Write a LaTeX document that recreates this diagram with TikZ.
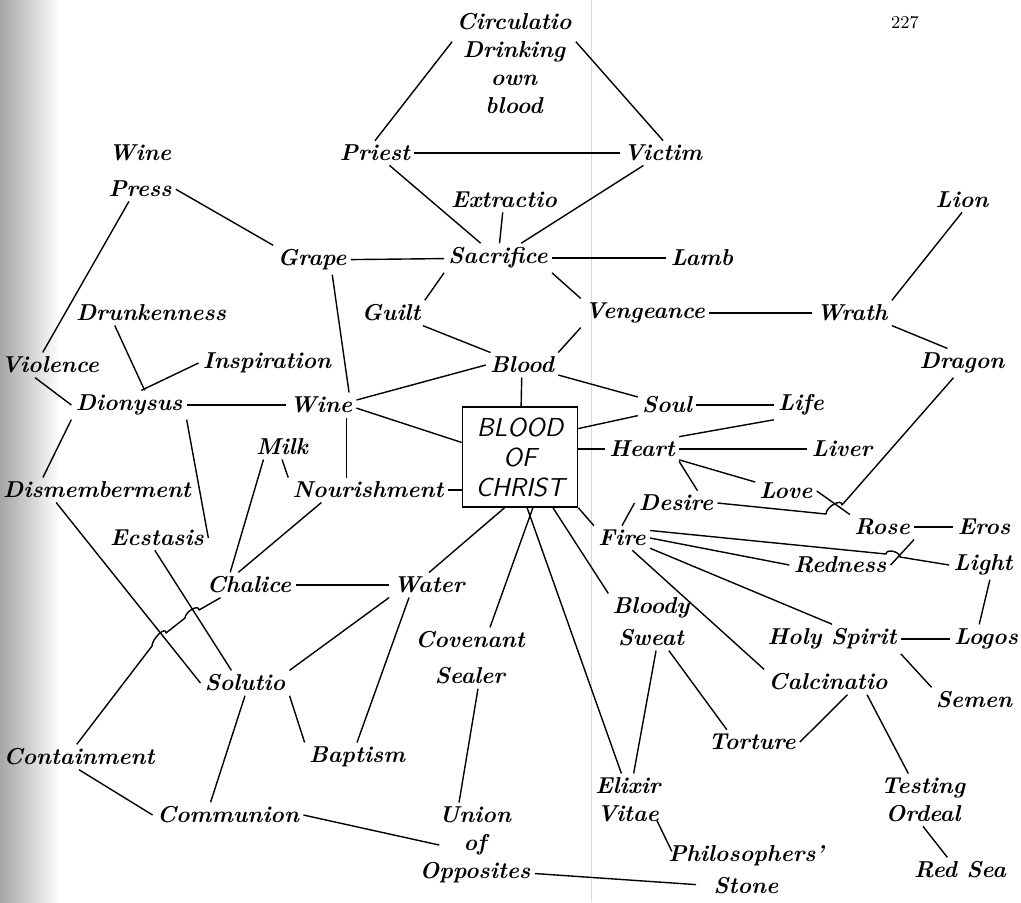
\documentclass[tikz,border=0pt]{standalone}
\usepackage{tikz}
\begin{document}
\begin{tikzpicture}[x=0.5pt,y=-0.5pt,
  word/.style={font=\fontsize{11.5}{14}\selectfont\bfseries\itshape,align=center,inner sep=2pt},
  box/.style={draw,line width=0.8pt,font=\fontsize{13}{15}\selectfont\sffamily\slshape,
    align=center,minimum width=57.5pt,minimum height=50pt,inner sep=2pt},
  link/.style={line width=0.7pt,line join=round}]
\useasboundingbox (0,0) rectangle (1021,902);
\shade[left color=black!35,right color=white] (0,0) rectangle (60,902);
\draw[black!15,line width=0.5pt] (591,0) -- (591,902); % fold of the page

\node[font=\fontsize{9}{10}\selectfont] (page) at (905,23) {227};

% top
\node[word] (circ) at (514,63) {Circulatio\\Drinking\\own\\blood};
\node[word] (priest) at (375,153) {Priest};
\node[word] (victim) at (663,153) {Victim};
\node[word] (winepress) at (140,171) {Wine\\[4pt]Press};
\node[word] (extractio) at (504,200) {Extractio};
\node[word] (lion) at (962,200) {Lion};
\node[word] (grape) at (312,260) {Grape};
\node[word] (sacrifice) at (498,258) {Sacrifice};
\node[word] (lamb) at (702,258) {Lamb};
\node[word] (drunk) at (151,313) {Drunkenness};
\node[word] (guilt) at (391,313) {Guilt};
\node[word] (vengeance) at (645,313) {Vengeance};
\node[word] (wrath) at (852,313) {Wrath};
\node[word] (violence) at (50,365) {Violence};
\node[word] (inspiration) at (267,363) {Inspiration};
\node[word] (blood) at (522,365) {Blood};
\node[word] (dragon) at (962,363) {Dragon};
\node[word] (dionysus) at (129,405) {Dionysus};
\node[word] (wine) at (321,405) {Wine};
\node[word] (soul) at (667,405) {Soul};
\node[word] (life) at (801,405) {Life};

% middle
\node[box] (christ) at (520,457) {BLOOD\\OF\\CHRIST};
\node[word] (milk) at (282,447) {Milk};
\node[word] (heart) at (642,449) {Heart};
\node[word] (liver) at (842,449) {Liver};
\node[word] (nour) at (368,490) {Nourishment};
\node[word] (dismember) at (97,490) {Dismemberment};
\node[word] (love) at (786,491) {Love};
\node[word] (desire) at (676,503) {Desire};
\node[word] (rose) at (882,527) {Rose};
\node[word] (eros) at (984,527) {Eros};
\node[word] (fire) at (622,538) {Fire};
\node[word] (ecstasis) at (157,538) {Ecstasis};
\node[word] (redness) at (840,565) {Redness};
\node[word] (light) at (983,565) {Light};
\node[word] (chalice) at (249,585) {Chalice};
\node[word] (water) at (429,585) {Water};
\node[word] (bloody) at (651,622) {Bloody\\[2pt]Sweat};
\node[word] (covenant) at (470,658) {Covenant\\[4pt]Sealer};
\node[word] (spirit) at (832,639) {Holy Spirit};
\node[word] (logos) at (986,639) {Logos};

% bottom
\node[word] (solutio) at (245,683) {Solutio};
\node[word] (calcinatio) at (828,682) {Calcinatio};
\node[word] (semen) at (974,700) {Semen};
\node[word] (torture) at (752,742) {Torture};
\node[word] (containment) at (79,757) {Containment};
\node[word] (baptism) at (357,757) {Baptism};
\node[word] (elixir) at (628,800) {Elixir\\Vitae};
\node[word] (testing) at (923,800) {Testing\\Ordeal};
\node[word] (communion) at (228,815) {Communion};
\node[word] (union) at (475,845) {Union\\of\\Opposites};
\node[word] (philo) at (746,870) {Philosophers'\\[2pt]Stone};
\node[word] (redsea) at (960,870) {Red Sea};

\foreach \a/\b in {circ.161/priest.north, circ.19/victim.north, priest/victim,
  priest/sacrifice, victim/sacrifice, extractio/sacrifice, grape/sacrifice,
  sacrifice/lamb, sacrifice.south east/vengeance.north west,
  sacrifice.south west/guilt.north east, guilt/blood,
  vengeance.south west/blood.north east, vengeance/wrath,
  wrath.north east/lion.south, wrath.south east/dragon.135,
  blood/soul, soul/life, blood/christ, soul.-160/christ.26,
  heart.north east/life.south west, heart/liver, heart/love,
  heart.south east/desire.30, love.east/rose.north west, rose/eros,
  light.-65/logos.115, spirit/logos, spirit.south east/semen.north west,
  fire.north/desire.west, christ.south east/fire.north west,
  fire.east/redness.west, fire.-20/spirit.north,
  fire.-50/calcinatio.north west, calcinatio.-33/torture.east,
  calcinatio.-18/testing.119, testing.south/redsea.135,
  bloody.-58/torture.154, bloody.-80/elixir.78, christ.-82/elixir.104,
  christ.-57/bloody.north west,
  christ.-107/water.north, chalice/water,
  water.south west/solutio.north east, water.-148/baptism.north,
  solutio.south east/baptism.north west, solutio.south/communion.144,
  containment.south/communion.west, dismember.-163/solutio.west,
  ecstasis.-100/solutio.137, milk.-146/chalice.146,
  milk.south/nour.north west, nour.-165/chalice.130,
  wine.8/blood.west, wine.-5/christ.166, grape.-36/wine.24,
  dionysus/wine, winepress.-27/grape.north west,
  winepress.250/violence.120, violence.-140/dionysus.west,
  dionysus.south west/dismember.167, dionysus.50/inspiration.west,
  drunk.-161/dionysus.43, dionysus.south east/ecstasis.east,
  rose.south east/redness.east}
  \draw[link] (\a) -- (\b);

\draw[link] (nour.east) -- (nour.east -| christ.west);
\draw[link] (heart.west) -- (heart.west -| christ.east);
\coordinate (wn) at ([xshift=-5pt]wine.south east);
\draw[link] (wn) -- (wn |- nour.north);
\draw[link] ([xshift=10pt]christ.-98) -- ([xshift=10pt]covenant.north);
\draw[link] ([xshift=4pt]covenant.south) -- ([xshift=-8pt]union.north);
\draw[link] (communion.east) -- ([xshift=12pt]union.west);
\draw[link] ([yshift=7pt]union.south east) -- ([xshift=-25pt,yshift=7pt]philo.south);
\draw[link] ([xshift=-4pt,yshift=3pt]elixir.south east) -- ([xshift=4pt,yshift=-5pt]philo.north west);

% hops
\draw[link] (desire.east) -- (826,514) to[out=90,in=90] (842,505) -- (dragon.-120);
\draw[link] (fire.15) -- (886,554) to[out=90,in=90] (900,557) -- (light.west);
\draw[link] (chalice.-156) -- (199,610) to[out=90,in=90] (185,618) -- (166,633)
  to[out=90,in=90] (152,646) -- (containment.100);
\end{tikzpicture}
\end{document}
